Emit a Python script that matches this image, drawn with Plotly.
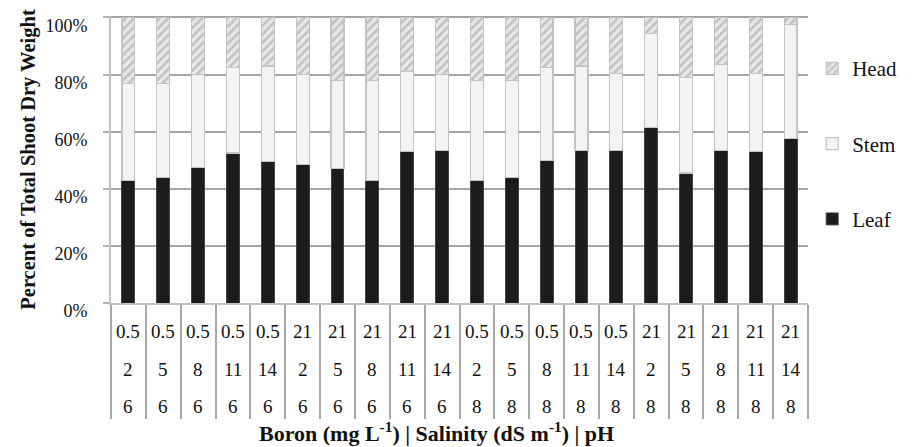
import plotly.graph_objects as go

boron = ["0.5", "0.5", "0.5", "0.5", "0.5", "21", "21", "21", "21", "21",
         "0.5", "0.5", "0.5", "0.5", "0.5", "21", "21", "21", "21", "21"]
salinity = ["2", "5", "8", "11", "14", "2", "5", "8", "11", "14",
            "2", "5", "8", "11", "14", "2", "5", "8", "11", "14"]
ph = ["6"] * 10 + ["8"] * 10

leaf = [43, 44, 47.5, 52.5, 49.5, 48.5, 47, 43, 53, 53.5,
        43, 44, 50, 53.5, 53.5, 61.5, 45.5, 53.5, 53, 57.5]
stem = [34, 33, 32.5, 30, 33.5, 31.5, 31, 35, 28, 26.5,
        35, 34, 32.5, 29.5, 27, 33, 33.5, 30, 27.5, 40]
head = [23, 23, 20, 17.5, 17, 20, 22, 22, 19, 20,
        22, 22, 17.5, 17, 19.5, 5.5, 21, 16.5, 19.5, 2.5]

yticks = [0, 20, 40, 60, 80, 100]
ytick_text = ["0%", "20%", "40%", "60%", "80%", "100%"]

cats = [f"{b} | {s} | {p}" for b, s, p in zip(boron, salinity, ph)]

FONT = "Liberation Serif, Times New Roman, serif"

fig = go.Figure()
fig.add_trace(go.Bar(x=cats, y=leaf, name="Leaf", legendgroup="leaf", legendrank=3,
                     marker=dict(color="#1c1c1c", line=dict(color="#444444", width=1))))
fig.add_trace(go.Bar(x=cats, y=stem, name="Stem", legendgroup="stem", legendrank=2,
                     marker=dict(color="#f3f3f3", line=dict(color="#c4c4c4", width=1.2))))
fig.add_trace(go.Bar(x=cats, y=head, name="Head", legendgroup="head", legendrank=1,
                     marker=dict(color="#e4e4e4", line=dict(color="#c4c4c4", width=1.2),
                                 pattern=dict(shape="/", fgcolor="#9c9c9c", bgcolor="#e8e8e8",
                                              size=6, solidity=0.45))))

# category table rows
rows = [(boron, -0.101), (salinity, -0.233), (ph, -0.359)]
for labels, yy in rows:
    for c, t in zip(cats, labels):
        fig.add_annotation(x=c, y=yy, xref="x", yref="paper", text=t, showarrow=False,
                           yanchor="middle", font=dict(family=FONT, size=19, color="#111111"))

fig.add_annotation(x=0.467, y=-0.45, xref="paper", yref="paper",
                   text="<b>Boron (mg L<sup>-1</sup>) | Salinity (dS m<sup>-1</sup>) | pH</b>",
                   showarrow=False, yanchor="middle",
                   font=dict(family=FONT, size=22, color="#111111"))

fig.update_layout(
    width=906, height=439,
    margin=dict(l=102.5, r=106, t=8, b=144),
    barmode="stack", bargap=0.63,
    plot_bgcolor="white", paper_bgcolor="white",
    font=dict(family=FONT, size=17, color="#111111"),
    legend=dict(traceorder="grouped", tracegroupgap=45,
                x=1.006, xanchor="left", y=0.888, yanchor="top",
                font=dict(family=FONT, size=21, color="#111111"),
                itemwidth=30, bgcolor="rgba(0,0,0,0)"),
    xaxis=dict(type="category", showticklabels=False, ticks="outside",
               tickson="boundaries", ticklen=114, tickcolor="#a8a8a8", tickwidth=2,
               showgrid=False, showline=True, linecolor="#c0c0c0", linewidth=2,
               range=[-0.5, 19.5], automargin=False),
    yaxis=dict(range=[0, 100.5], tickvals=yticks, ticktext=ytick_text,
               showgrid=True, gridcolor="#a4a4a4", gridwidth=1.8,
               showline=True, linecolor="#c0c0c0", linewidth=2,
               ticks="outside", ticklen=6, tickcolor="#b0b0b0", tickwidth=2,
               ticklabelstandoff=12, ticklabelshift=8, ticklabeloverflow="allow",
               tickfont=dict(family=FONT, size=18, color="#111111"),
               zeroline=False, automargin=False,
               title=dict(text="<b>Percent of Total Shoot Dry Weight</b>",
                          font=dict(family=FONT, size=20.5, color="#111111"), standoff=4)),
)

fig.write_html("out.html")
